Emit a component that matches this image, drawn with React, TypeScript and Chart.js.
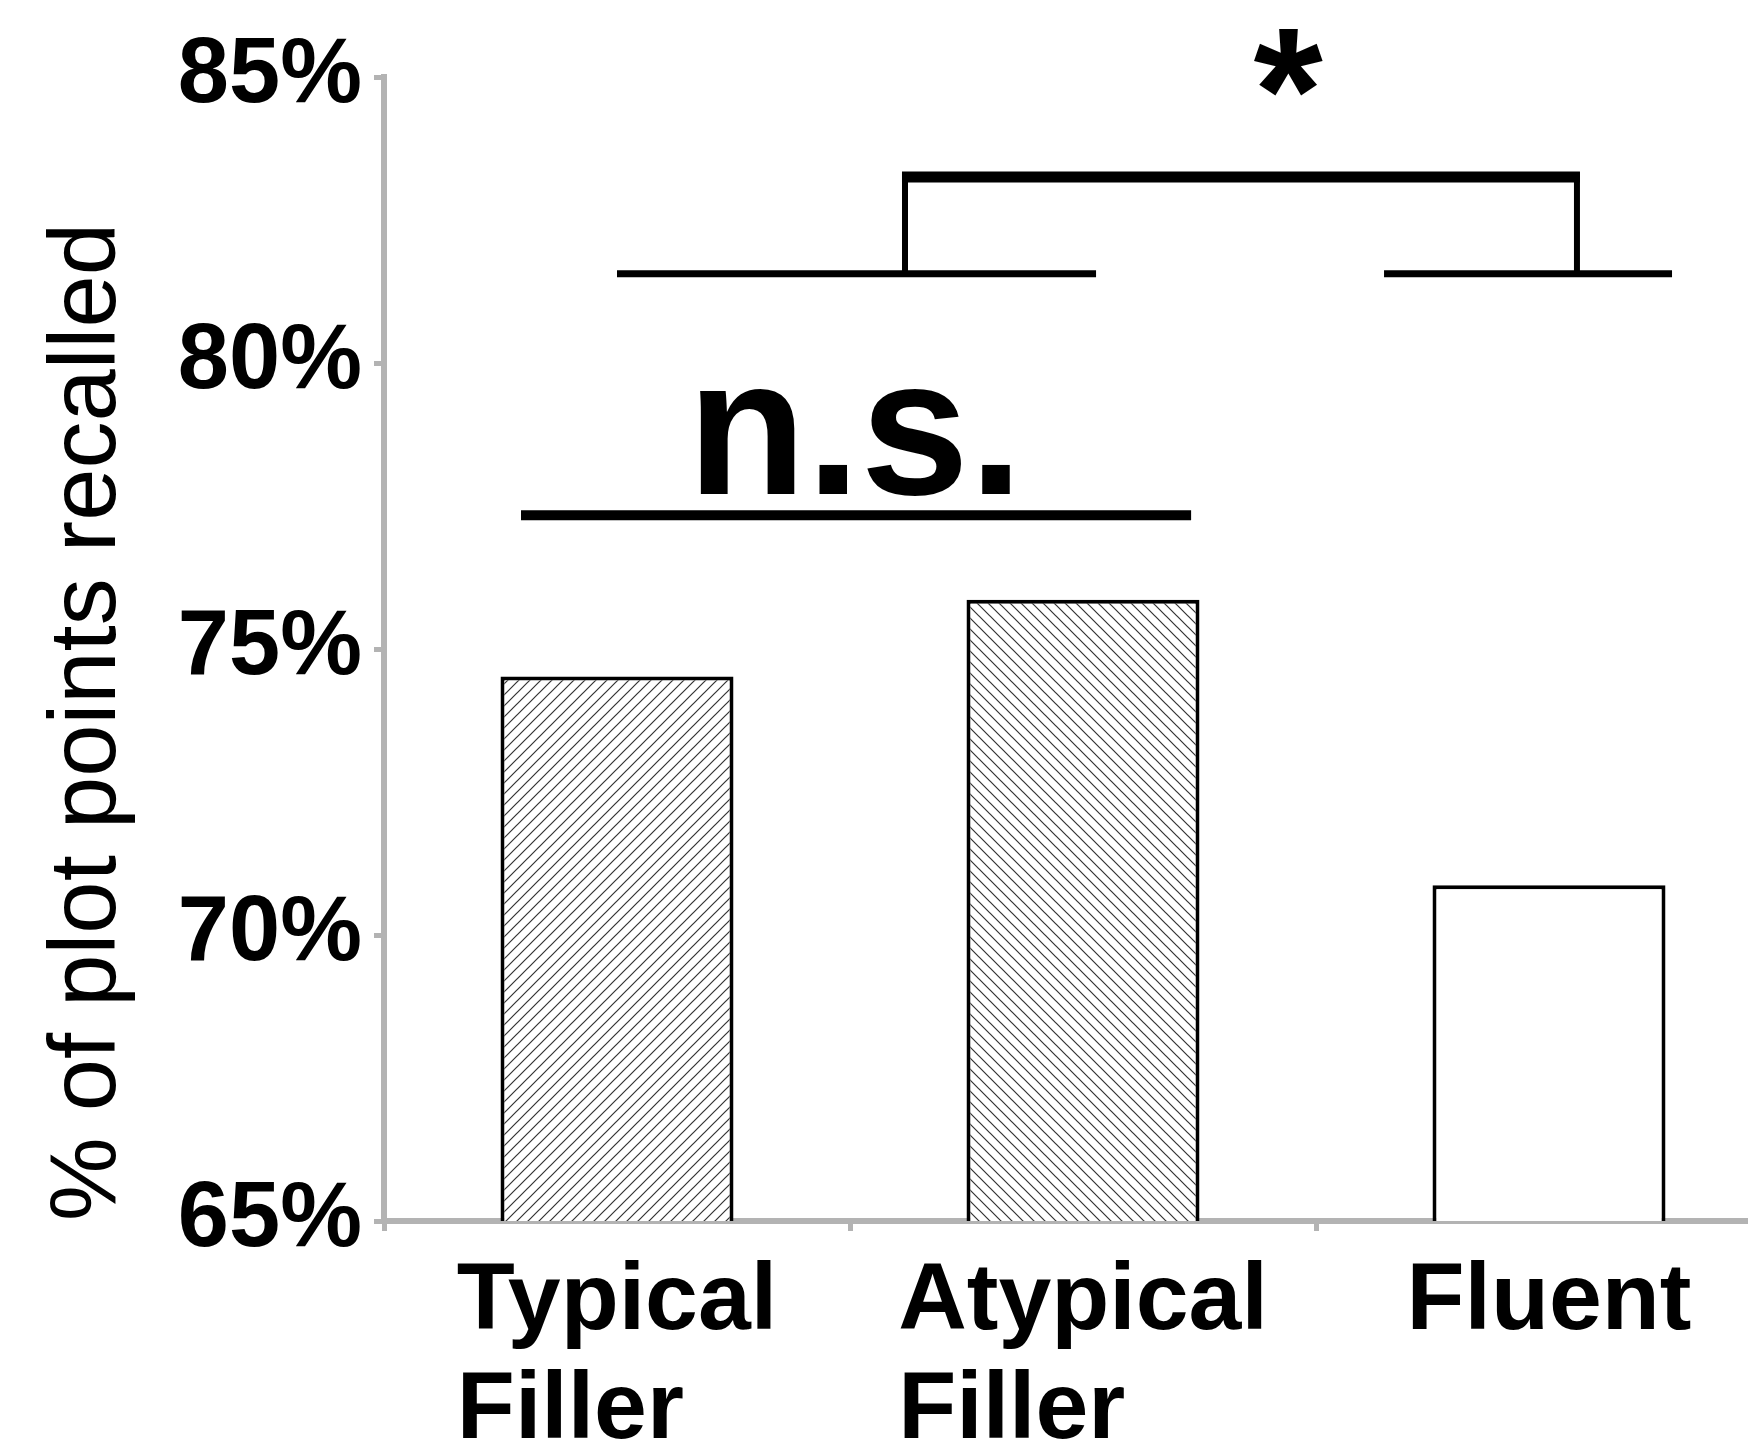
import React, { useEffect, useRef } from "react";
import { Chart, registerables } from "chart.js";

Chart.register(...registerables);

// ---- data ----
const categories: string[][] = [["Typical", "Filler"], ["Atypical", "Filler"], ["Fluent"]];
const recalled: number[] = [74.52, 75.86, 70.87];
const yMin = 65;
const yMax = 85;
const yStep = 5;
const yAxisTitle = "% of plot points recalled";
const nsLabel = "n.s.";
const starLabel = "*";

// annotation anchors in data units (category index, percent)
const nsBar = { x0: -0.206, x1: 1.232, y: 77.34 };
const nsText = { x: 0.511, y: 77.71 };
const bracketLeft = { x0: 0.0, x1: 1.028, y: 81.56 };
const bracketRight = { x0: 1.646, x1: 2.264, y: 81.56 };
const bracketTop = { x0: 0.618, x1: 2.06, y: 83.25 };
const starText = { x: 1.44, y: 86.1 };

const FONT = "'Liberation Sans', Arial, Helvetica, sans-serif";
const CAT_FONT_SIZE = 95;
const CAT_LINE_GAP = 109;

function makeHatch(dir: "fwd" | "back"): CanvasPattern | string {
  const s = 11;
  const c = document.createElement("canvas");
  c.width = s;
  c.height = s;
  const g = c.getContext("2d");
  if (!g) return "#fff";
  g.fillStyle = "#ffffff";
  g.fillRect(0, 0, s, s);
  g.strokeStyle = "#333333";
  g.lineWidth = 1.2;
  g.beginPath();
  if (dir === "fwd") {
    g.moveTo(0, s); g.lineTo(s, 0);
    g.moveTo(-2, 2); g.lineTo(2, -2);
    g.moveTo(s - 2, s + 2); g.lineTo(s + 2, s - 2);
  } else {
    g.moveTo(0, 0); g.lineTo(s, s);
    g.moveTo(-2, s - 2); g.lineTo(2, s + 2);
    g.moveTo(s - 2, -2); g.lineTo(s + 2, 2);
  }
  g.stroke();
  const p = g.createPattern(c, "repeat");
  return p || "#fff";
}

// category labels: block centred on the tick, lines left-aligned
const categoryLabels = {
  id: "categoryLabels",
  afterDraw(chart: any) {
    const { ctx } = chart;
    const x = chart.scales.x;
    ctx.save();
    ctx.fillStyle = "#000";
    ctx.font = `bold ${CAT_FONT_SIZE}px ${FONT}`;
    ctx.textAlign = "left";
    ctx.textBaseline = "alphabetic";
    categories.forEach((lines, i) => {
      const w = Math.max(...lines.map((l) => ctx.measureText(l).width));
      const left = x.getPixelForTick(i) - w / 2;
      lines.forEach((l, j) => {
        ctx.fillText(l, left, x.top + 108 + j * CAT_LINE_GAP);
      });
    });
    ctx.restore();
  },
};

const annotations = {
  id: "sigAnnotations",
  afterDatasetsDraw(chart: any) {
    const { ctx } = chart;
    const x = chart.scales.x;
    const y = chart.scales.y;
    const px = (v: number) => x.getPixelForValue(v);
    const py = (v: number) => y.getPixelForValue(v);
    ctx.save();
    ctx.strokeStyle = "#000";
    ctx.lineCap = "butt";
    const line = (x0: number, y0: number, x1: number, y1: number, w: number) => {
      ctx.lineWidth = w;
      ctx.beginPath();
      ctx.moveTo(x0, y0);
      ctx.lineTo(x1, y1);
      ctx.stroke();
    };
    // n.s. bar
    line(px(nsBar.x0), py(nsBar.y), px(nsBar.x1), py(nsBar.y), 10);
    // bracket lower lines
    line(px(bracketLeft.x0), py(bracketLeft.y), px(bracketLeft.x1), py(bracketLeft.y), 7);
    line(px(bracketRight.x0), py(bracketRight.y), px(bracketRight.x1), py(bracketRight.y), 7);
    // verticals
    line(px(bracketTop.x0), py(bracketLeft.y), px(bracketTop.x0), py(bracketTop.y) - 5, 6);
    line(px(bracketTop.x1), py(bracketRight.y), px(bracketTop.x1), py(bracketTop.y) - 5, 6);
    // top line
    line(px(bracketTop.x0) - 3, py(bracketTop.y), px(bracketTop.x1) + 3, py(bracketTop.y), 11);

    ctx.fillStyle = "#000";
    ctx.textAlign = "center";
    ctx.textBaseline = "alphabetic";
    // n.s. text
    ctx.font = `bold 195px ${FONT}`;
    ctx.fillText(nsLabel, px(nsText.x), py(nsText.y));
    // asterisk
    ctx.font = `bold 178px ${FONT}`;
    ctx.textBaseline = "top";
    ctx.fillText(starLabel, px(starText.x), py(starText.y));
    ctx.restore();
  },
};

export default function App() {
  const ref = useRef<HTMLCanvasElement | null>(null);

  useEffect(() => {
    const canvas = ref.current;
    if (!canvas) return;
    const fills = [makeHatch("fwd"), makeHatch("back"), "#ffffff"];
    const axisGrey = "#b3b3b3";
    const chart = new Chart(canvas, {
      type: "bar",
      data: {
        labels: categories,
        datasets: [
          {
            data: recalled,
            backgroundColor: fills as any,
            borderColor: "#000000",
            borderWidth: 4,
            borderSkipped: false,
            barPercentage: 0.5,
            categoryPercentage: 1,
          },
        ],
      },
      options: {
        animation: false,
        responsive: false,
        devicePixelRatio: 1,
        layout: { padding: { top: 77, right: 18, left: 0, bottom: 0 } },
        plugins: {
          legend: { display: false },
          tooltip: { enabled: false },
        },
        scales: {
          x: {
            offset: true,
            grid: {
              offset: true,
              drawOnChartArea: false,
              drawTicks: true,
              tickLength: 10,
              color: axisGrey,
              lineWidth: 5,
            },
            border: { color: axisGrey, width: 6 },
            ticks: {
              display: false,
              autoSkip: false,
            },
            afterFit: (s: any) => {
              s.height = 218;
            },
          },
          y: {
            min: yMin,
            max: yMax,
            ticks: {
              stepSize: yStep,
              color: "#000",
              padding: 12,
              font: { family: FONT, size: 92, weight: "bold" },
              callback: (v: any) => `${v}%`,
            },
            grid: {
              drawOnChartArea: false,
              drawTicks: true,
              tickLength: 10,
              color: axisGrey,
              lineWidth: 5,
            },
            border: { color: axisGrey, width: 6 },
            title: {
              display: true,
              text: yAxisTitle,
              align: "start",
              color: "#000",
              font: { family: FONT, size: 94, weight: "normal" },
              padding: { top: 33, bottom: 0 },
            },
            afterFit: (s: any) => {
              s.width = 384;
            },
          },
        },
      },
      plugins: [annotations, categoryLabels],
    });
    return () => chart.destroy();
  }, []);

  return (
    <div
      style={{
        position: "fixed",
        left: 0,
        top: 0,
        width: 1748,
        height: 1439,
        overflow: "hidden",
        background: "#ffffff",
      }}
    >
      <canvas
        ref={ref}
        width={1800}
        height={1439}
        style={{ width: 1800, height: 1439, display: "block" }}
      />
    </div>
  );
}
